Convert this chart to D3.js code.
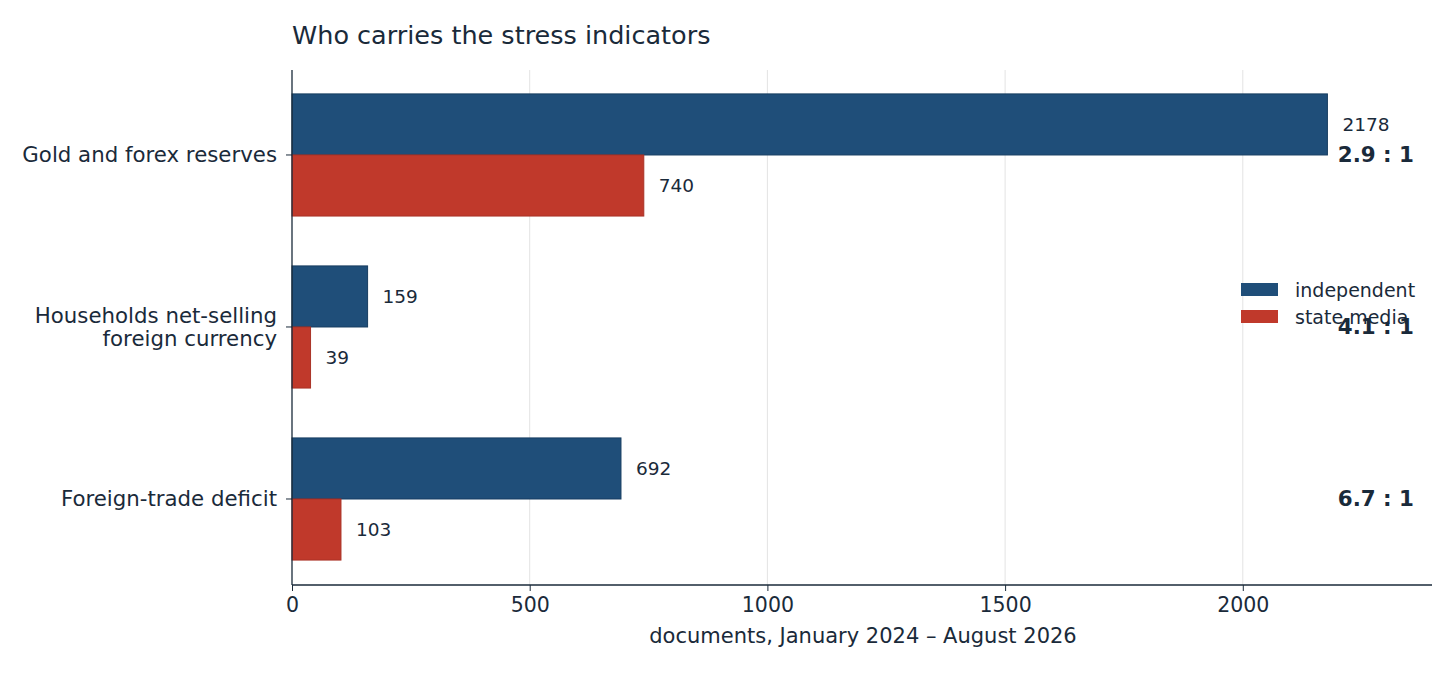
<!DOCTYPE html>
<html><head><meta charset="utf-8">
<script src="https://cdn.jsdelivr.net/npm/d3@7"></script>
<style>body{margin:0;background:#fff;font-family:"DejaVu Sans",sans-serif;}</style>
</head><body><div id="chart"></div>
<script>
const DATA = [
  {label: ["Gold and forex reserves"], independent: 2178, state: 740, ratio: "2.9 : 1"},
  {label: ["Households net-selling", "foreign currency"], independent: 159, state: 39, ratio: "4.1 : 1"},
  {label: ["Foreign-trade deficit"], independent: 692, state: 103, ratio: "6.7 : 1"}
];
const BLUE = "#1f4e79", RED = "#c0392b", INK = "#1a2a3a";
const WIDTH = 1456, HEIGHT = 674,
      LEFT = 292, RIGHT = 1432, TOP = 70, BOTTOM = 585;

const svg = d3.select("#chart").append("svg").attr("width", WIDTH).attr("height", HEIGHT);

const x = d3.scaleLinear().domain([0, 2398]).range([LEFT, RIGHT]);
// categorical positions: center i at y(i); bars 0.35 wide each
const y = d3.scaleLinear().domain([-0.494, 2.5]).range([TOP, BOTTOM]);
const BW = 0.355;

// grid
svg.append("g").selectAll("line").data(x.ticks(5).filter(d => d > 0)).enter().append("line")
   .attr("x1", d => x(d)).attr("x2", d => x(d)).attr("y1", TOP).attr("y2", BOTTOM)
   .attr("stroke", "#e3e3e3").attr("stroke-width", 1);

const g = svg.append("g").selectAll("g").data(DATA).enter().append("g");
g.append("rect").attr("x", x(0)).attr("y", (d, i) => y(i - BW))
  .attr("width", d => x(d.independent) - x(0)).attr("height", y(BW) - y(0))
  .attr("fill", BLUE).attr("stroke", "#173d61").attr("stroke-width", 1);
g.append("rect").attr("x", x(0)).attr("y", (d, i) => y(i))
  .attr("width", d => x(d.state) - x(0)).attr("height", y(BW) - y(0))
  .attr("fill", RED).attr("stroke", "#a93226").attr("stroke-width", 1);
g.append("text").attr("x", d => x(d.independent) + 15).attr("y", (d, i) => y(i - BW / 2))
  .attr("dy", "0.35em").attr("font-size", 18.5).attr("fill", INK).text(d => d.independent);
g.append("text").attr("x", d => x(d.state) + 15).attr("y", (d, i) => y(i + BW / 2))
  .attr("dy", "0.35em").attr("font-size", 18.5).attr("fill", INK).text(d => d.state);
g.append("text").attr("x", 1414).attr("y", (d, i) => y(i)).attr("text-anchor", "end")
  .attr("dy", "0.35em").attr("font-size", 21.4).attr("font-weight", "bold").attr("fill", INK).text(d => d.ratio);

// category labels
g.each(function(d, i) {
  const n = d.label.length;
  d.label.forEach((t, k) => {
    d3.select(this).append("text").attr("x", LEFT - 15).attr("y", y(i) + (k - (n - 1) / 2) * 23)
      .attr("dy", "0.35em").attr("text-anchor", "end").attr("font-size", 21.3).attr("fill", INK).text(t);
  });
  d3.select(this).append("line").attr("x1", LEFT - 6).attr("x2", LEFT).attr("y1", y(i)).attr("y2", y(i)).attr("stroke", INK);
});

// axes
const xa = svg.append("g").attr("transform", `translate(0,${BOTTOM})`)
  .call(d3.axisBottom(x).ticks(5).tickFormat(d3.format("d")).tickSize(6).tickPadding(6));
xa.select(".domain").remove();
xa.selectAll("text").attr("font-size", 20.5).attr("fill", INK).attr("font-family", "DejaVu Sans");
xa.selectAll("line").attr("stroke", INK);
svg.append("line").attr("x1", LEFT).attr("x2", RIGHT).attr("y1", BOTTOM).attr("y2", BOTTOM).attr("stroke", INK).attr("stroke-width", 1.3);
svg.append("line").attr("x1", LEFT).attr("x2", LEFT).attr("y1", TOP).attr("y2", BOTTOM).attr("stroke", INK).attr("stroke-width", 1.3);

svg.append("text").attr("x", 863).attr("y", 643).attr("text-anchor", "middle")
  .attr("font-size", 21).attr("fill", INK).text("documents, January 2024 – August 2026");
svg.append("text").attr("x", LEFT).attr("y", 44).attr("font-size", 25.5).attr("fill", INK).text("Who carries the stress indicators");

// legend
const leg = svg.append("g").attr("transform", "translate(1241,283)");
[["independent", BLUE], ["state media", RED]].forEach(([t, c], k) => {
  leg.append("rect").attr("x", 0).attr("y", k * 27).attr("width", 37).attr("height", 13).attr("fill", c);
  leg.append("text").attr("x", 54).attr("y", k * 27 + 7).attr("dy", "0.35em").attr("font-size", 19).attr("fill", INK).text(t);
});
</script></body></html>
